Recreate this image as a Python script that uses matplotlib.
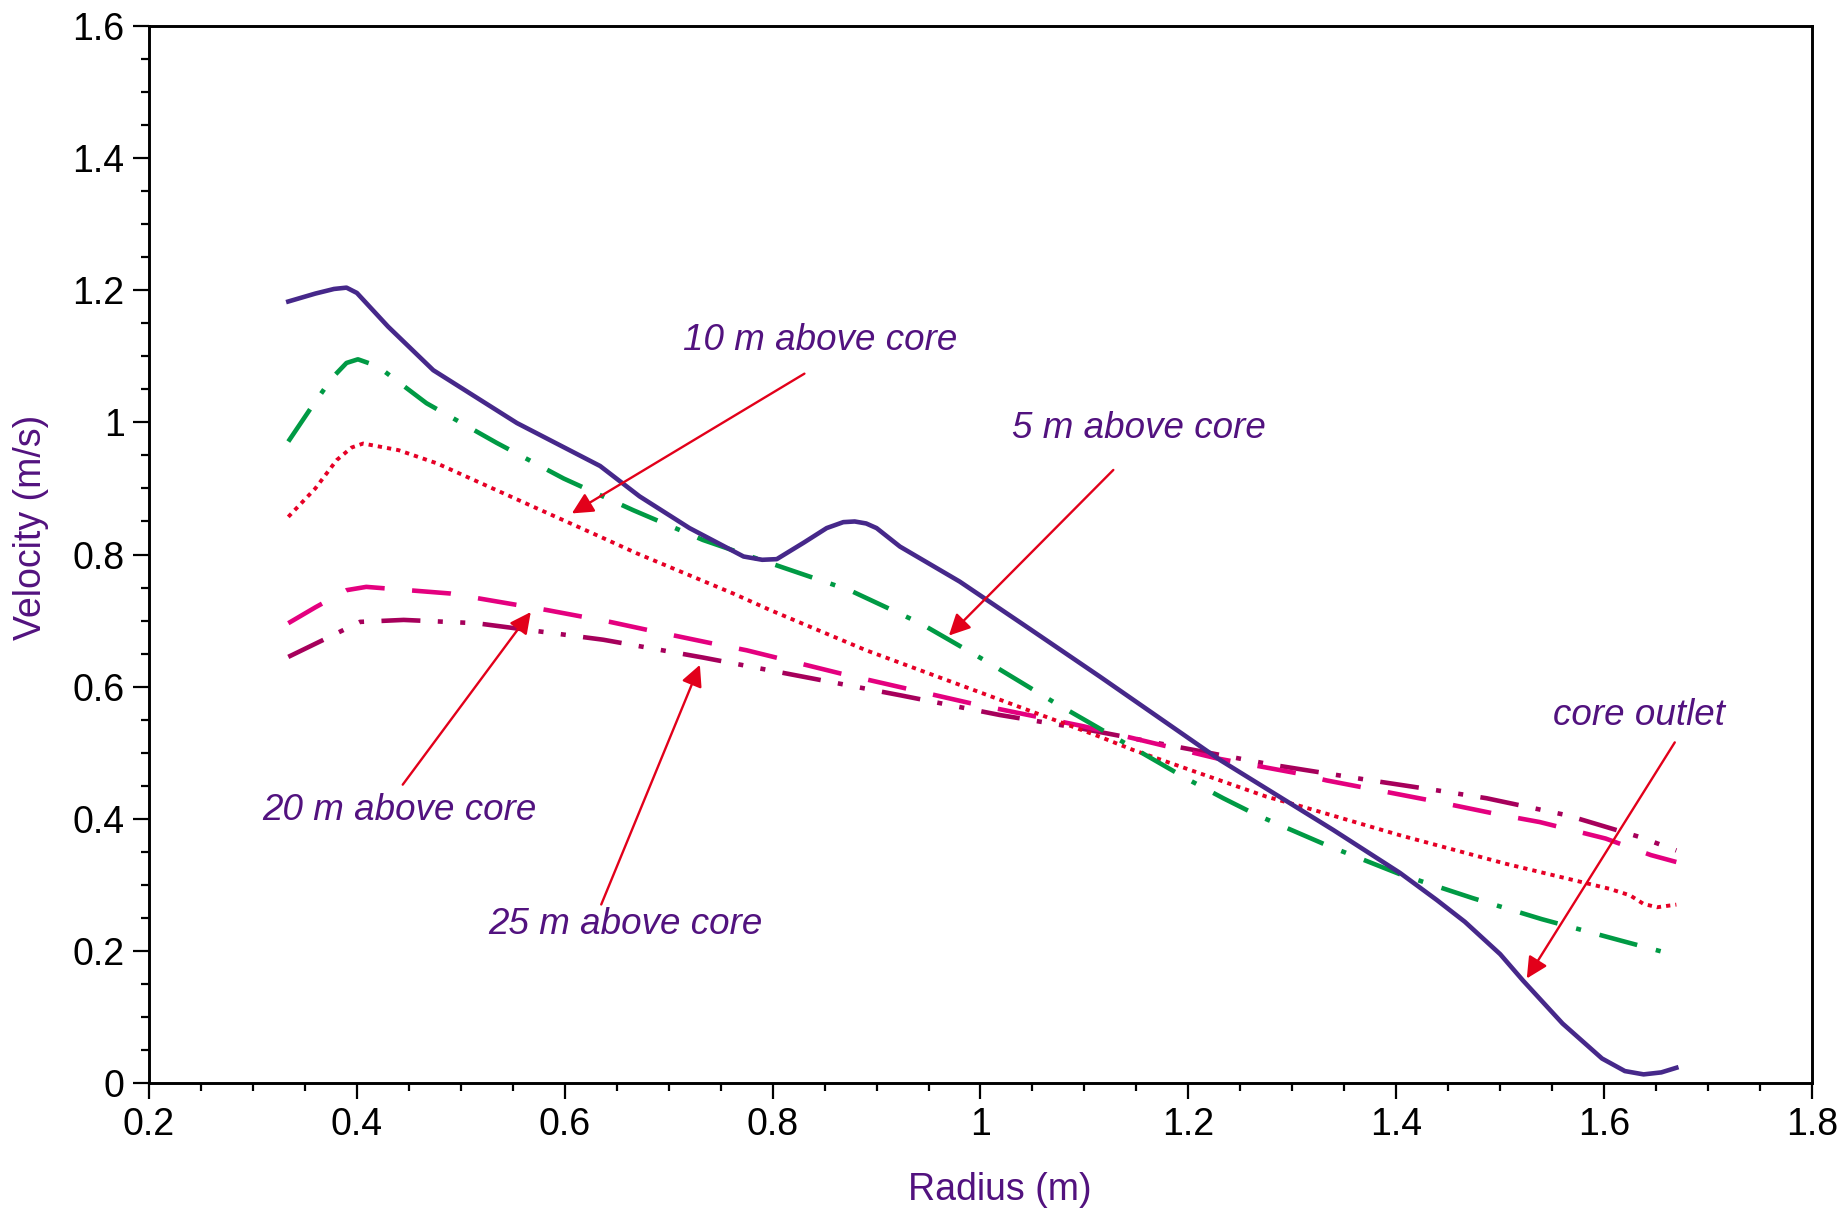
import matplotlib.pyplot as plt
from matplotlib.ticker import MultipleLocator, FuncFormatter

plt.rcParams['font.family'] = ['Liberation Sans', 'DejaVu Sans']

# velocity profiles across the radius
r_outlet = [0.334, 0.36, 0.378, 0.390, 0.40, 0.43, 0.4735, 0.554, 0.634, 0.672, 0.72, 0.772, 0.79,
            0.804, 0.83, 0.852, 0.868, 0.879, 0.890, 0.900, 0.9225, 0.980, 1.044, 1.115, 1.2304,
            1.3394, 1.4036, 1.439, 1.466, 1.5, 1.522, 1.56, 1.598, 1.62, 1.638, 1.655, 1.6695]
v_outlet = [1.183, 1.195, 1.202, 1.204, 1.196, 1.145, 1.079, 0.999, 0.934, 0.888, 0.84, 0.797, 0.792,
            0.793, 0.818, 0.840, 0.849, 0.850, 0.847, 0.840, 0.812, 0.759, 0.691, 0.615, 0.489,
            0.383, 0.318, 0.277, 0.244, 0.195, 0.155, 0.09, 0.037, 0.018, 0.013, 0.016, 0.023]

r_5m = [0.334, 0.355, 0.376, 0.39, 0.401, 0.42, 0.467, 0.5345, 0.599, 0.666, 0.733, 0.7975,
        0.874, 0.942, 1.006, 1.070, 1.134, 1.198, 1.2336, 1.2657, 1.333, 1.4036, 1.474,
        1.54, 1.615, 1.6695]
v_5m = [0.971, 1.02, 1.067, 1.09, 1.0955, 1.085, 1.029, 0.969, 0.915, 0.867, 0.822, 0.787,
        0.746, 0.696, 0.638, 0.577, 0.519, 0.461, 0.431, 0.4057, 0.360, 0.316, 0.2796,
        0.248, 0.216, 0.193]

r_10m = [0.334, 0.36, 0.3806, 0.395, 0.406, 0.44, 0.477, 0.573, 0.634, 0.669, 0.762, 0.7975,
         0.890, 1.019, 1.115, 1.147, 1.275, 1.306, 1.4036, 1.505, 1.605, 1.625, 1.638,
         1.651, 1.6695]
v_10m = [0.857, 0.9, 0.943, 0.962, 0.968, 0.958, 0.938, 0.870, 0.827, 0.802, 0.741, 0.716,
         0.655, 0.580, 0.524, 0.504, 0.4335, 0.420, 0.375, 0.332, 0.294, 0.284, 0.271,
         0.266, 0.27]

r_20m = [0.334, 0.36, 0.390, 0.409, 0.4896, 0.5826, 0.6435, 0.679, 0.740, 0.775, 0.865,
         0.990, 1.099, 1.227, 1.304, 1.333, 1.432, 1.4998, 1.538, 1.6015, 1.645, 1.6695]
v_20m = [0.696, 0.72, 0.746, 0.751, 0.741, 0.716, 0.698, 0.686, 0.666, 0.655, 0.620,
         0.575, 0.540, 0.4915, 0.469, 0.458, 0.428, 0.406, 0.395, 0.370, 0.345, 0.3345]

r_25m = [0.334, 0.368, 0.403, 0.445, 0.515, 0.637, 0.733, 0.9225, 1.0187, 1.0957, 1.1888,
         1.2815, 1.3716, 1.439, 1.487, 1.565, 1.635, 1.6695]
v_25m = [0.645, 0.671, 0.698, 0.701, 0.696, 0.671, 0.644, 0.587, 0.557, 0.537, 0.509,
         0.4815, 0.459, 0.443, 0.431, 0.405, 0.372, 0.352]

# label text, label centre, arrow tail, arrow head
labels = ["10 m above core", "5 m above core", "20 m above core", "25 m above core", "core outlet"]
label_xy = [(0.8453, 1.1236), (1.1527, 0.9902), (0.4407, 0.4124), (0.6588, 0.240), (1.634, 0.5564)]
arrow_from = [(0.8306, 1.0738), (1.1278, 0.928), (0.4441, 0.4516), (0.6351, 0.2702), (1.668, 0.5156)]
arrow_to = [(0.6068, 0.8622), (0.9696, 0.6773), (0.5673, 0.7129), (0.730, 0.6329), (1.5256, 0.1582)]

purple = "#52127f"
arrow_red = "#e2001a"

fig = plt.figure(figsize=(18.42, 12.23), dpi=100)
ax = fig.add_axes([0.0809, 0.1145, 0.9028, 0.8642])

line_kw = dict(solid_joinstyle="round", dash_joinstyle="round")
ax.plot(r_25m, v_25m, color="#a6005b", lw=3.3, dashes=(8.5, 3.8, 1.1, 3.8, 1.1, 3.8), **line_kw)
ax.plot(r_20m, v_20m, color="#e4007f", lw=3.3, dashes=(8.5, 6.0), **line_kw)
ax.plot(r_10m, v_10m, color="#e60026", lw=2.8, dashes=(1.1, 1.3), **line_kw)
ax.plot(r_5m, v_5m, color="#009a44", lw=3.3, dashes=(8.5, 4.2, 1.1, 4.2), **line_kw)
ax.plot(r_outlet, v_outlet, color="#46288a", lw=3.3, **line_kw)

for txt, pos, tail, head in zip(labels, label_xy, arrow_from, arrow_to):
    ax.text(pos[0], pos[1], txt, ha="center", va="center", fontsize=26.5,
            style="italic", color=purple)
    ax.annotate("", xy=head, xytext=tail,
                arrowprops=dict(arrowstyle="-|>", color=arrow_red, lw=1.7,
                                mutation_scale=32, shrinkA=0, shrinkB=0))

ax.set_xlim(0.2, 1.8)
ax.set_ylim(0, 1.6)
ax.xaxis.set_major_locator(MultipleLocator(0.2))
ax.xaxis.set_minor_locator(MultipleLocator(0.05))
ax.yaxis.set_major_locator(MultipleLocator(0.2))
ax.yaxis.set_minor_locator(MultipleLocator(0.05))
fmt = FuncFormatter(lambda v, p: f"{v:.1f}".rstrip("0").rstrip(".") if v else "0")
ax.xaxis.set_major_formatter(fmt)
ax.yaxis.set_major_formatter(fmt)

ax.tick_params(which="major", direction="out", length=11.5, width=1.6,
               labelsize=27, pad=6)
ax.tick_params(which="minor", direction="out", length=5.5, width=1.6)
for s in ax.spines.values():
    s.set_linewidth(2.1)

ax.set_xlabel("Radius (m)", fontsize=27, color=purple)
ax.set_ylabel("Velocity (m/s)", fontsize=27, color=purple)
ax.xaxis.set_label_coords(0.5117, -0.084)
ax.yaxis.set_label_coords(-0.06, 0.5255)

fig.savefig("out.png", dpi=100)
